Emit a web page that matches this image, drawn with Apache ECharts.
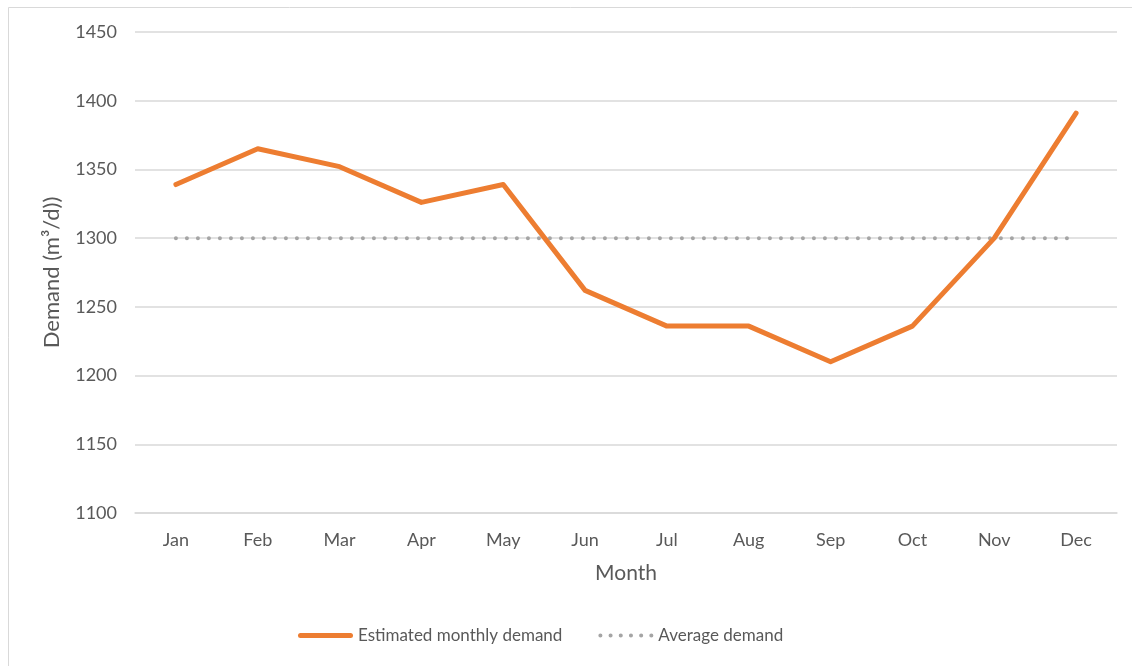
<!DOCTYPE html>
<html>
<head>
<meta charset="utf-8">
<script src="https://cdn.jsdelivr.net/npm/echarts@6/dist/echarts.min.js"></script>
<style>
html,body{margin:0;padding:0;background:#fff;}
#chart{width:1132px;height:666px;}
</style>
</head>
<body>
<div id="chart"></div>
<script>
const months = ['Jan','Feb','Mar','Apr','May','Jun','Jul','Aug','Sep','Oct','Nov','Dec'];
const estimatedDemand = [1339, 1365, 1352, 1326, 1339, 1262, 1236, 1236, 1210, 1236, 1300, 1391];
const averageDemand = [1300, 1300, 1300, 1300, 1300, 1300, 1300, 1300, 1300, 1300, 1300, 1300];
const seriesNames = ['Estimated monthly demand', 'Average demand'];

const font = 'Lato, "Open Sans", sans-serif';

// legend icon shapes
const lineIcon = 'path://M2.5,0 L52.5,0 A2.5,2.5 0 0,1 52.5,5 L2.5,5 A2.5,2.5 0 0,1 2.5,0 Z';
let dotsPath = '';
for (let i = 0; i < 6; i++) {
  const cx = 2 + i * 10;
  dotsPath += 'M' + (cx - 2) + ',2 A2,2 0 1,0 ' + (cx + 2) + ',2 A2,2 0 1,0 ' + (cx - 2) + ',2 Z ';
}
const dotsIcon = 'path://' + dotsPath;

const chart = echarts.init(document.getElementById('chart'), null, {renderer: 'canvas'});
chart.setOption({
  animation: false,
  backgroundColor: '#fff',
  textStyle: {fontFamily: font},
  graphic: [{
    type: 'rect',
    shape: {x: 8.5, y: 7.5, width: 1140, height: 700},
    style: {fill: 'none', stroke: '#D9D9D9', lineWidth: 1},
    silent: true, z: -10
  }],
  grid: {left: 135, right: 15, top: 32, bottom: 153, containLabel: false},
  legend: {
    left: 293, top: 622,
    itemWidth: 55, itemHeight: 5, itemGap: 36,
    textStyle: {color: '#595959', fontSize: 17, fontFamily: font, padding: [0, 0, 0, 0]},
    data: [
      {name: seriesNames[0], icon: lineIcon},
      {name: seriesNames[1], icon: dotsIcon}
    ]
  },
  xAxis: {
    type: 'category',
    data: months,
    boundaryGap: true,
    name: 'Month',
    nameLocation: 'middle',
    nameGap: 50,
    nameTextStyle: {color: '#595959', fontSize: 21, fontFamily: font},
    axisLine: {lineStyle: {color: '#D9D9D9', width: 1.5}},
    axisTick: {show: false},
    axisLabel: {color: '#595959', fontSize: 18, margin: 18, fontFamily: font}
  },
  yAxis: {
    type: 'value',
    min: 1100, max: 1450, interval: 50,
    name: 'Demand (m³/d))',
    nameLocation: 'middle',
    nameGap: 72,
    nameRotate: 90,
    nameTextStyle: {color: '#595959', fontSize: 22, fontFamily: font},
    axisLine: {show: false},
    axisTick: {show: false},
    splitLine: {lineStyle: {color: '#D9D9D9', width: 1.5}},
    axisLabel: {color: '#595959', fontSize: 18, margin: 18, fontFamily: font,
      formatter: function (v) { return String(v); }}
  },
  series: [
    {
      name: seriesNames[0],
      type: 'line',
      data: estimatedDemand,
      symbol: 'none',
      lineStyle: {color: '#ED7D31', width: 5, cap: 'round', join: 'round'},
      itemStyle: {color: '#ED7D31'},
      z: 3
    },
    {
      name: seriesNames[1],
      type: 'line',
      data: averageDemand,
      symbol: 'none',
      lineStyle: {color: '#A5A5A5', width: 4, type: [0, 11], cap: 'round'},
      itemStyle: {color: '#A5A5A5'},
      z: 2
    }
  ]
});
</script>
</body>
</html>
